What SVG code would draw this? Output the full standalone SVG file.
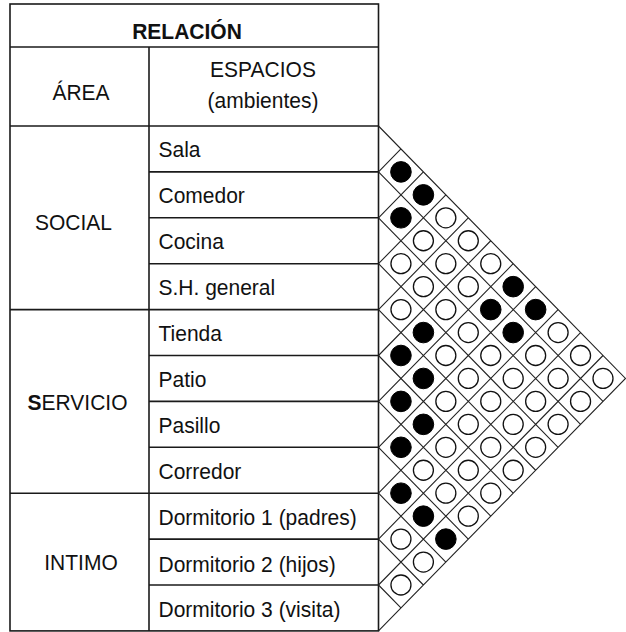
<svg xmlns="http://www.w3.org/2000/svg" width="626" height="632" viewBox="0 0 626 632">
<style>
  .bg{fill:#ffffff}
  .tb{fill:none;stroke:#1a1a1a;stroke-width:1.6}
  .grid{fill:none;stroke:#222;stroke-width:1.1}
  .t{font-family:"Liberation Sans",Arial,sans-serif;font-size:21px;fill:#111}
  .c{text-anchor:middle}
  .b{font-weight:bold}
  .on{fill:#000;stroke:#000;stroke-width:1}
  .off{fill:#fff;stroke:#111;stroke-width:1.3}
</style>
<rect class="bg" x="0" y="0" width="626" height="632"/>

<g id="table">
  <rect class="tb" x="10" y="4" width="368.5" height="626.9"/>
  <line class="tb" x1="10" y1="47" x2="378.5" y2="47"/>
  <line class="tb" x1="10" y1="126" x2="378.5" y2="126"/>
  <line class="tb" x1="149" y1="47" x2="149" y2="630.9"/>
  <line class="tb" x1="10" y1="309.6" x2="149" y2="309.6"/>
  <line class="tb" x1="10" y1="493.2" x2="149" y2="493.2"/>
</g>

<g id="header">
  <text class="t c b" transform="translate(187,38.5) scale(1,1.05)">RELACIÓN</text>
  <text class="t c" transform="translate(81,99.5) scale(1,1.08)">ÁREA</text>
  <text class="t c" transform="translate(263,77) scale(1,1.08)">ESPACIOS</text>
  <text class="t c" transform="translate(263,108) scale(1,1.08)">(ambientes)</text>
</g>

<g id="area-social"><text class="t c" transform="translate(73.5,230) scale(1,1.08)">SOCIAL</text></g>
<g id="area-servicio"><text class="t c" transform="translate(77.5,409.5) scale(1,1.08)"><tspan class="b">S</tspan>ERVICIO</text></g>
<g id="area-intimo"><text class="t c" transform="translate(81,570) scale(1,1.08)">INTIMO</text></g>

<g id="row-sala"><text class="t" transform="translate(158.5,157) scale(1,1.08)">Sala</text></g>
<g id="row-comedor"><line class="tb" x1="149" y1="171.9" x2="378.5" y2="171.9"/><text class="t" transform="translate(158.5,203.3) scale(1,1.08)">Comedor</text></g>
<g id="row-cocina"><line class="tb" x1="149" y1="217.8" x2="378.5" y2="217.8"/><text class="t" transform="translate(158.5,249.2) scale(1,1.08)">Cocina</text></g>
<g id="row-sh"><line class="tb" x1="149" y1="263.7" x2="378.5" y2="263.7"/><text class="t" transform="translate(158.5,295.1) scale(1,1.08)">S.H. general</text></g>
<g id="row-tienda"><line class="tb" x1="149" y1="309.6" x2="378.5" y2="309.6"/><text class="t" transform="translate(158.5,341) scale(1,1.08)">Tienda</text></g>
<g id="row-patio"><line class="tb" x1="149" y1="355.5" x2="378.5" y2="355.5"/><text class="t" transform="translate(158.5,386.9) scale(1,1.08)">Patio</text></g>
<g id="row-pasillo"><line class="tb" x1="149" y1="401.4" x2="378.5" y2="401.4"/><text class="t" transform="translate(158.5,432.8) scale(1,1.08)">Pasillo</text></g>
<g id="row-corredor"><line class="tb" x1="149" y1="447.3" x2="378.5" y2="447.3"/><text class="t" transform="translate(158.5,478.7) scale(1,1.08)">Corredor</text></g>
<g id="row-dorm1"><line class="tb" x1="149" y1="493.2" x2="378.5" y2="493.2"/><text class="t" transform="translate(158.5,525) scale(1,1.08)">Dormitorio 1 (padres)</text></g>
<g id="row-dorm2"><line class="tb" x1="149" y1="539.1" x2="378.5" y2="539.1"/><text class="t" transform="translate(158.5,571.5) scale(1,1.08)">Dormitorio 2 (hijos)</text></g>
<g id="row-dorm3"><line class="tb" x1="149" y1="585" x2="378.5" y2="585"/><text class="t" transform="translate(158.5,617) scale(1,1.08)">Dormitorio 3 (visita)</text></g>

<g id="connectors">
  <path class="grid" d="M378.5,126 L625.5,378.45 L378.5,630.9
    M378.5,171.9 L603,401.4 M378.5,171.9 L400.95,148.95
    M378.5,217.8 L580.55,424.35 M378.5,217.8 L423.4,171.9
    M378.5,263.7 L558.1,447.3 M378.5,263.7 L445.85,194.85
    M378.5,309.6 L535.65,470.25 M378.5,309.6 L468.3,217.8
    M378.5,355.5 L513.2,493.2 M378.5,355.5 L490.75,240.75
    M378.5,401.4 L490.75,516.15 M378.5,401.4 L513.2,263.7
    M378.5,447.3 L468.3,539.1 M378.5,447.3 L535.65,286.65
    M378.5,493.2 L445.85,562.05 M378.5,493.2 L558.1,309.6
    M378.5,539.1 L423.4,585 M378.5,539.1 L580.55,332.55
    M378.5,585 L400.95,607.95 M378.5,585 L603,355.5"/>
</g>

<g id="matrix">
  <circle class="on" cx="400.95" cy="171.9" r="10.3"/>
  <circle class="on" cx="423.4" cy="194.85" r="10.3"/>
  <circle class="on" cx="400.95" cy="217.8" r="10.3"/>
  <circle class="off" cx="445.85" cy="217.8" r="10"/>
  <circle class="off" cx="423.4" cy="240.75" r="10"/>
  <circle class="off" cx="468.3" cy="240.75" r="10"/>
  <circle class="off" cx="400.95" cy="263.7" r="10"/>
  <circle class="off" cx="445.85" cy="263.7" r="10"/>
  <circle class="off" cx="490.75" cy="263.7" r="10"/>
  <circle class="off" cx="423.4" cy="286.65" r="10"/>
  <circle class="off" cx="468.3" cy="286.65" r="10"/>
  <circle class="on" cx="513.2" cy="286.65" r="10.3"/>
  <circle class="off" cx="400.95" cy="309.6" r="10"/>
  <circle class="off" cx="445.85" cy="309.6" r="10"/>
  <circle class="on" cx="490.75" cy="309.6" r="10.3"/>
  <circle class="on" cx="535.65" cy="309.6" r="10.3"/>
  <circle class="on" cx="423.4" cy="332.55" r="10.3"/>
  <circle class="off" cx="468.3" cy="332.55" r="10"/>
  <circle class="on" cx="513.2" cy="332.55" r="10.3"/>
  <circle class="off" cx="558.1" cy="332.55" r="10"/>
  <circle class="on" cx="400.95" cy="355.5" r="10.3"/>
  <circle class="off" cx="445.85" cy="355.5" r="10"/>
  <circle class="off" cx="490.75" cy="355.5" r="10"/>
  <circle class="off" cx="535.65" cy="355.5" r="10"/>
  <circle class="off" cx="580.55" cy="355.5" r="10"/>
  <circle class="on" cx="423.4" cy="378.45" r="10.3"/>
  <circle class="off" cx="468.3" cy="378.45" r="10"/>
  <circle class="off" cx="513.2" cy="378.45" r="10"/>
  <circle class="off" cx="558.1" cy="378.45" r="10"/>
  <circle class="off" cx="603" cy="378.45" r="10"/>
  <circle class="on" cx="400.95" cy="401.4" r="10.3"/>
  <circle class="off" cx="445.85" cy="401.4" r="10"/>
  <circle class="off" cx="490.75" cy="401.4" r="10"/>
  <circle class="off" cx="535.65" cy="401.4" r="10"/>
  <circle class="off" cx="580.55" cy="401.4" r="10"/>
  <circle class="on" cx="423.4" cy="424.35" r="10.3"/>
  <circle class="off" cx="468.3" cy="424.35" r="10"/>
  <circle class="off" cx="513.2" cy="424.35" r="10"/>
  <circle class="off" cx="558.1" cy="424.35" r="10"/>
  <circle class="on" cx="400.95" cy="447.3" r="10.3"/>
  <circle class="off" cx="445.85" cy="447.3" r="10"/>
  <circle class="off" cx="490.75" cy="447.3" r="10"/>
  <circle class="off" cx="535.65" cy="447.3" r="10"/>
  <circle class="off" cx="423.4" cy="470.25" r="10"/>
  <circle class="off" cx="468.3" cy="470.25" r="10"/>
  <circle class="off" cx="513.2" cy="470.25" r="10"/>
  <circle class="on" cx="400.95" cy="493.2" r="10.3"/>
  <circle class="off" cx="445.85" cy="493.2" r="10"/>
  <circle class="off" cx="490.75" cy="493.2" r="10"/>
  <circle class="on" cx="423.4" cy="516.15" r="10.3"/>
  <circle class="off" cx="468.3" cy="516.15" r="10"/>
  <circle class="off" cx="400.95" cy="539.1" r="10"/>
  <circle class="on" cx="445.85" cy="539.1" r="10.3"/>
  <circle class="off" cx="423.4" cy="562.05" r="10"/>
  <circle class="off" cx="400.95" cy="585" r="10"/>
</g>
</svg>
